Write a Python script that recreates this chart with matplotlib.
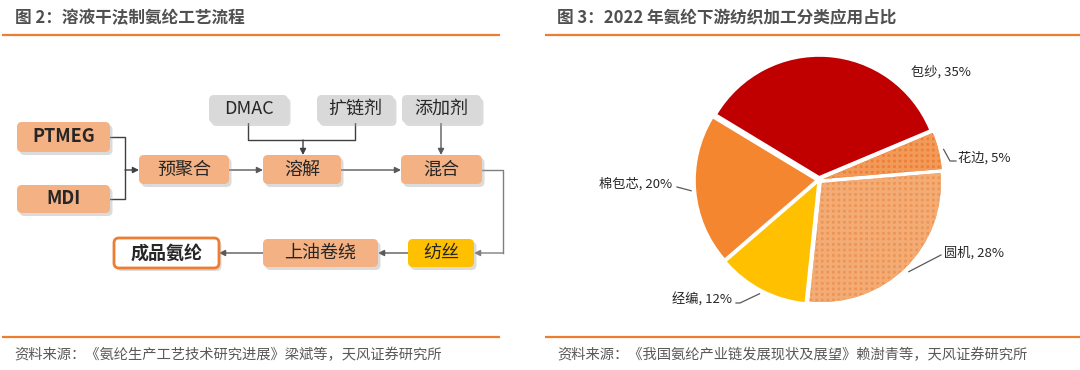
import numpy as np
import matplotlib
matplotlib.use('Agg')
from matplotlib import pyplot as plt
from matplotlib.patches import FancyBboxPatch

plt.rcParams['font.family'] = ['Noto Sans CJK SC', 'DejaVu Sans']
plt.rcParams['hatch.linewidth'] = 2.0

# ---- data ----
left_title = '图 2：溶液干法制氨纶工艺流程'
right_title = '图 3：2022 年氨纶下游纺织加工分类应用占比'
left_source = '资料来源：《氨纶生产工艺技术研究进展》梁斌等，天风证券研究所'
right_source = '资料来源：《我国氨纶产业链发展现状及展望》赖澍青等，天风证券研究所'

raw_materials = ['PTMEG', 'MDI']
solvents = ['DMAC', '扩链剂', '添加剂']
main_steps = ['预聚合', '溶解', '混合']
late_steps = ['纺丝', '上油卷绕']
product = '成品氨纶'

pie_labels = ['包纱', '棉包芯', '经编', '圆机', '花边']
pie_values = [35, 20, 12, 28, 5]

# ---- layout (pixels) ----
W, H = 1080, 370
ORANGE = '#ED7D31'
PEACH = '#F4B183'
GREY = '#D9D9D9'
YELLOW = '#FFC000'
TXT = '#262626'

fig = plt.figure(figsize=(W / 100, H / 100), dpi=100)

# pie axes
PCX, PCY, R = 819, 180, 124
pax = fig.add_axes([(PCX - 1.2 * R) / W, (H - PCY - 1.2 * R) / H, 2.4 * R / W, 2.4 * R / H])
pax.set_xlim(-1.2, 1.2)
pax.set_ylim(-1.2, 1.2)
pax.axis('off')

ax = fig.add_axes([0, 0, 1, 1])
ax.set_xlim(0, W)
ax.set_ylim(H, 0)
ax.axis('off')
ax.patch.set_alpha(0)

# titles, rules, sources
ax.text(15, 18, left_title, fontsize=12, fontweight='bold', color='#505050', va='center')
ax.text(557, 18, right_title, fontsize=12, fontweight='bold', color='#505050', va='center')
for x0, x1 in [(2, 500), (545, 1080)]:
    ax.plot([x0, x1], [35, 35], color=ORANGE, lw=1.6, solid_capstyle='butt')
    ax.plot([x0, x1], [337, 337], color=ORANGE, lw=1.6, solid_capstyle='butt')
ax.text(14, 355, left_source, fontsize=10.3, color='#595959', va='center')
ax.text(557, 355, right_source, fontsize=10.3, color='#595959', va='center')


def box(cx, cy, w, h, text, fc, ec='none', bold=False, lw=0):
    sh = FancyBboxPatch((cx - w / 2 + 2.5, cy - h / 2 + 3), w, h,
                        boxstyle='round,pad=0,rounding_size=5',
                        fc='#A6A6A6', ec='none', alpha=0.4, zorder=2)
    ax.add_patch(sh)
    p = FancyBboxPatch((cx - w / 2, cy - h / 2), w, h,
                       boxstyle='round,pad=0,rounding_size=5',
                       fc=fc, ec=ec, lw=lw, zorder=3)
    ax.add_patch(p)
    ax.text(cx, cy, text, fontsize=13, color=TXT, ha='center', va='center',
            fontweight='bold' if bold else 'normal', zorder=4)


def arrow(p0, p1, color='#404040'):
    ax.annotate('', xy=p1, xytext=p0, zorder=1,
                arrowprops=dict(arrowstyle='-|>', color=color, lw=1,
                                mutation_scale=9, shrinkA=0, shrinkB=0))


# raw materials
raw_pos = [(63.5, 137, 93, 30), (63.5, 199, 93, 28)]
for name, (cx, cy, w, h) in zip(raw_materials, raw_pos):
    box(cx, cy, w, h, name, PEACH, bold=True)

# additives
sol_pos = [(248.5, 109, 79, 28), (355.5, 109, 77, 28), (441.5, 109, 79, 28)]
for name, (cx, cy, w, h) in zip(solvents, sol_pos):
    box(cx, cy, w, h, name, GREY)

main_pos = [(184, 169.5, 90, 29), (302, 169.5, 78, 29), (441.5, 169.5, 81, 29)]
for name, (cx, cy, w, h) in zip(main_steps, main_pos):
    box(cx, cy, w, h, name, PEACH)

late_pos = [(441, 253, 66, 28), (320.5, 253, 115, 28)]
late_fc = [YELLOW, PEACH]
for name, (cx, cy, w, h), fc in zip(late_steps, late_pos, late_fc):
    box(cx, cy, w, h, name, fc)

box(166.5, 253, 105, 30, product, 'white', ec=ORANGE, bold=True, lw=2)

# connectors
LC = '#404040'
ax.plot([110, 125, 125, 110], [137, 137, 199, 199], color=LC, lw=1, zorder=1)
arrow((125, 170), (139, 170))
arrow((229, 170), (263, 170), '#595959')
ax.plot([248, 248, 355, 355], [123, 140, 140, 123], color=LC, lw=1, zorder=1)
arrow((303, 140), (303, 155))
arrow((341, 170), (401, 170), '#595959')
arrow((441, 123), (441, 155), '#595959')
ax.plot([482, 503, 503], [170, 170, 253], color='#7F7F7F', lw=1, zorder=1)
arrow((503, 253), (474, 253), '#7F7F7F')
arrow((408, 253), (378, 253), '#595959')
arrow((263, 253), (219, 253), '#595959')

# ---- pie ----
pie_colors = ['#C00000', '#F4862F', '#FFC000', '#EF9553', '#EE7F35']
pie_hatch = [None, None, None, '+++', '+++']
hatch_colors = [None, None, None, '#F4AC76', '#F29A5A']
EXP = 0.035
wedges, _ = pax.pie(pie_values, colors=pie_colors, startangle=22.8,
                    counterclock=True, explode=[EXP] * len(pie_values),
                    radius=1.0, wedgeprops=dict(lw=0))
for wdg, hatch, hc in zip(wedges, pie_hatch, hatch_colors):
    if hatch:
        wdg.set_hatch(hatch)
        wdg.set_edgecolor(hc)
        wdg.set_linewidth(0)

# label positions in pixels: text anchor, leader path (elbow points)
label_text_pos = [(911, 72, 'left'), (672, 184, 'right'), (732, 300, 'right'),
                  (944, 253, 'left'), (958, 158, 'left')]
label_elbow = [None, [(677, 187)], [(740, 303), (736, 303)],
               [(941, 255)], [(950, 161), (956, 161)]]
for wdg, name, val, (tx, ty, ha), elbow in zip(wedges, pie_labels, pie_values,
                                               label_text_pos, label_elbow):
    ax.text(tx, ty, '{}, {}%'.format(name, val), fontsize=9.5, color='#262626',
            ha=ha, va='center')
    if elbow is None:
        continue
    mid = np.deg2rad((wdg.theta1 + wdg.theta2) / 2)
    ex = PCX + R * (1 + EXP) * np.cos(mid)
    ey = PCY - R * (1 + EXP) * np.sin(mid)
    xs = [ex] + [p[0] for p in elbow]
    ys = [ey] + [p[1] for p in elbow]
    ax.plot(xs, ys, color='#595959', lw=0.9)

plt.savefig('out.png', dpi=100)
plt.close()
